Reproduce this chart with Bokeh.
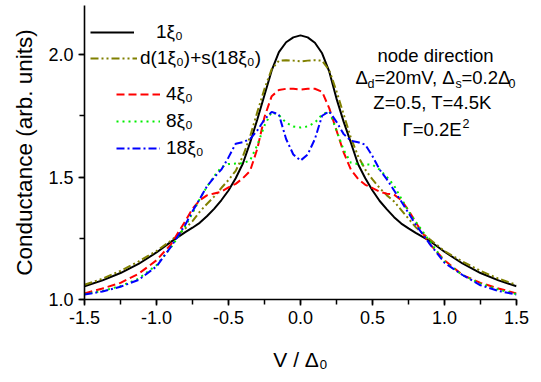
from bokeh.plotting import figure
from bokeh.models import (Range1d, SingleIntervalTicker, NumeralTickFormatter,
                          Legend, LegendItem, Label)
from bokeh.embed import file_html
from bokeh.resources import INLINE

# ---------------- data ----------------
V = [-1.5, -1.375, -1.25, -1.125, -1.0, -0.9, -0.8, -0.75, -0.7, -0.65, -0.6,
     -0.55, -0.5, -0.45, -0.4, -0.35, -0.3, -0.25, -0.2, -0.15, -0.1, -0.05,
     0.0,
     0.05, 0.1, 0.15, 0.2, 0.25, 0.3, 0.35, 0.4, 0.45, 0.5, 0.55, 0.6, 0.65,
     0.7, 0.75, 0.8, 0.9, 1.0, 1.125, 1.25, 1.375, 1.5]

G_1xi = [1.054, 1.078, 1.108, 1.145, 1.192, 1.235, 1.275, 1.293, 1.313, 1.340, 1.370,
         1.405, 1.445, 1.495, 1.555, 1.640, 1.735, 1.835, 1.935, 2.010, 2.050, 2.070,
         2.078,
         2.070, 2.048, 2.005, 1.930, 1.820, 1.725, 1.640, 1.552, 1.495, 1.445, 1.402,
         1.368, 1.336, 1.310, 1.290, 1.272, 1.238, 1.195, 1.147, 1.108, 1.078, 1.054]

G_mix = [1.060, 1.085, 1.117, 1.155, 1.198, 1.240, 1.290, 1.320, 1.358, 1.390, 1.420,
         1.455, 1.488, 1.525, 1.585, 1.665, 1.765, 1.860, 1.940, 1.975, 1.977, 1.975,
         1.972,
         1.975, 1.977, 1.975, 1.935, 1.850, 1.755, 1.660, 1.585, 1.530, 1.490, 1.455,
         1.425, 1.400, 1.365, 1.330, 1.295, 1.245, 1.198, 1.155, 1.117, 1.085, 1.060]

G_4xi = [1.025, 1.045, 1.068, 1.105, 1.160, 1.225, 1.320, 1.370, 1.405, 1.425, 1.433,
         1.440, 1.458, 1.472, 1.495, 1.525, 1.615, 1.745, 1.830, 1.855, 1.860, 1.860,
         1.857,
         1.860, 1.860, 1.848, 1.780, 1.690, 1.600, 1.530, 1.492, 1.468, 1.455, 1.440,
         1.432, 1.428, 1.405, 1.365, 1.315, 1.225, 1.160, 1.100, 1.068, 1.045, 1.025]

G_8xi = [1.022, 1.035, 1.055, 1.085, 1.140, 1.212, 1.300, 1.352, 1.410, 1.460, 1.503,
         1.540, 1.553, 1.555, 1.556, 1.568, 1.630, 1.710, 1.765, 1.752, 1.722, 1.706,
         1.702,
         1.706, 1.722, 1.755, 1.768, 1.690, 1.610, 1.558, 1.553, 1.552, 1.550, 1.530,
         1.500, 1.465, 1.412, 1.360, 1.318, 1.235, 1.155, 1.100, 1.065, 1.040, 1.022]

G_18xi = [1.020, 1.033, 1.052, 1.080, 1.135, 1.215, 1.305, 1.360, 1.410, 1.462, 1.498,
          1.530, 1.580, 1.636, 1.642, 1.655, 1.690, 1.735, 1.766, 1.755, 1.655, 1.592,
          1.567,
          1.592, 1.655, 1.750, 1.768, 1.725, 1.675, 1.648, 1.642, 1.632, 1.585, 1.530,
          1.490, 1.445, 1.400, 1.353, 1.305, 1.225, 1.150, 1.100, 1.058, 1.035, 1.020]

X_TICK_STEP = 0.5
Y_TICK_STEP = 0.5

FONT = "Liberation Sans"

p = figure(width=541, height=382,
           x_range=Range1d(-1.5, 1.5), y_range=Range1d(1.0, 2.2),
           output_backend="svg", toolbar_location=None,
           min_border_left=84, min_border_right=25,
           min_border_top=5, min_border_bottom=83,
           x_axis_label="V / Δ₀", y_axis_label="Conductance (arb. units)")
p.outline_line_color = None
p.grid.visible = False
p.background_fill_color = "white"
p.border_fill_color = "white"

p.xaxis[0].ticker = SingleIntervalTicker(interval=X_TICK_STEP, num_minor_ticks=2)
p.yaxis[0].ticker = SingleIntervalTicker(interval=Y_TICK_STEP, num_minor_ticks=2)
for ax in (p.xaxis[0], p.yaxis[0]):
    ax.formatter = NumeralTickFormatter(format="0.0")
    ax.axis_line_width = 1.6
    ax.axis_line_color = "black"
    ax.major_tick_in = 0
    ax.major_tick_out = 6
    ax.minor_tick_in = 0
    ax.minor_tick_out = 5
    ax.major_tick_line_width = 1.5
    ax.minor_tick_line_width = 1.5
    ax.major_label_text_font = FONT
    ax.major_label_text_font_size = "18px"
    ax.major_label_text_color = "black"
    ax.major_label_standoff = 5
    ax.axis_label_text_font = FONT
    ax.axis_label_text_font_style = "normal"
    ax.axis_label_text_color = "black"
p.xaxis[0].axis_label_text_font_size = "21px"
p.xaxis[0].axis_label_standoff = 21
p.yaxis[0].axis_label_text_font_size = "22.5px"
p.yaxis[0].axis_label_standoff = 8

r_1 = p.line(V, G_1xi, line_color="black", line_width=2)
r_mix = p.line(V, G_mix, line_color="#808000", line_width=2, line_dash="8 3 2 3 2 3")
r_4 = p.line(V, G_4xi, line_color="#ff0000", line_width=2, line_dash="8 4")
r_8 = p.line(V, G_8xi, line_color="#00ee00", line_width=2, line_dash="2 4")
r_18 = p.line(V, G_18xi, line_color="#0000ff", line_width=2, line_dash="8 3 2 3")


def make_legend(items, loc, gw, standoff):
    lg = Legend(items=items, location=loc, glyph_width=gw, glyph_height=20,
                label_height=20, label_standoff=standoff, spacing=5,
                padding=0, margin=0, border_line_color=None,
                background_fill_alpha=0, label_text_font=FONT,
                label_text_font_size="19px", label_text_color="black")
    p.add_layout(lg)


make_legend([LegendItem(label="1ξ₀", renderers=[r_1])], (6, 256), 44, 22)
make_legend([LegendItem(label="d(1ξ₀)+s(18ξ₀)", renderers=[r_mix])], (6, 230), 47, 3)
make_legend([LegendItem(label="4ξ₀", renderers=[r_4]),
             LegendItem(label="8ξ₀", renderers=[r_8]),
             LegendItem(label="18ξ₀", renderers=[r_18])], (32, 140), 44, 6)

# ---------------- parameter annotation (screen units, relative to the plot frame) ----------------
MAIN = "18.5px"
SUB = "12.5px"


def txt(x, y, s, size=MAIN, align="left"):
    p.add_layout(Label(x=x, y=y, x_units="screen", y_units="screen", text=s,
                       text_font=FONT, text_font_size=size, text_color="black",
                       text_align=align, text_baseline="alphabetic"))


txt(351, 244, "node direction", align="center")
txt(271, 222, "Δ")
txt(283, 216, "d", SUB)
txt(290, 222, "=20mV, Δ")
txt(371, 216, "s", SUB)
txt(377, 222, "=0.2Δ")
txt(424, 216, "0", SUB)
txt(348, 197, "Z=0.5, T=4.5K", align="center")
txt(318, 170, "Γ=0.2E")
txt(378, 176, "2", SUB)

open("out.html", "w").write(file_html(p, INLINE))
